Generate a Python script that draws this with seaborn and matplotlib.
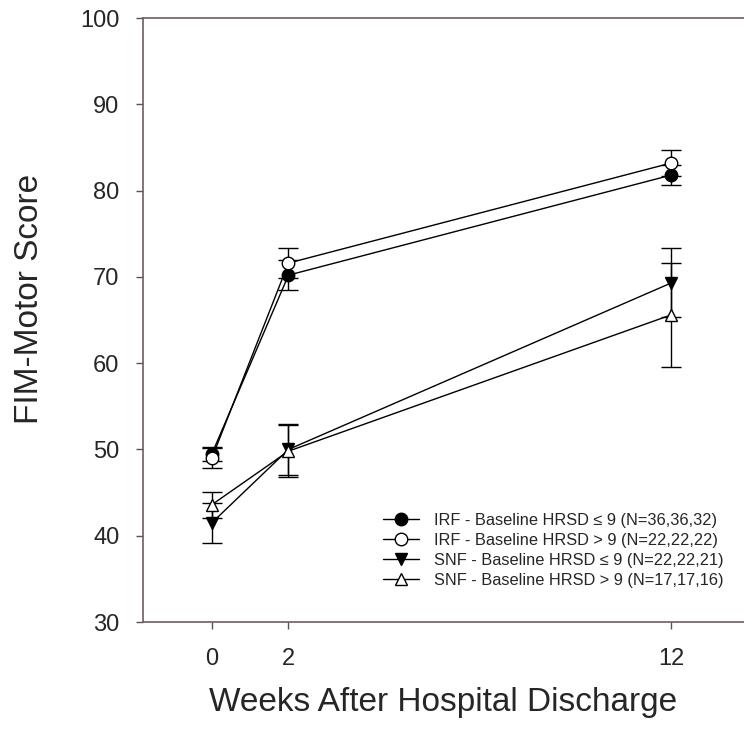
import numpy as np
import pandas as pd
import matplotlib
matplotlib.use("Agg")
import matplotlib.pyplot as plt
import seaborn as sns

# Data
weeks = [0, 2, 12]
groups = [
    "IRF - Baseline HRSD \u2264 9 (N=36,36,32)",
    "IRF - Baseline HRSD > 9 (N=22,22,22)",
    "SNF - Baseline HRSD \u2264 9 (N=22,22,21)",
    "SNF - Baseline HRSD > 9 (N=17,17,16)",
]
irf_low = [49.5, 70.2, 81.8]
irf_high = [49.0, 71.6, 83.2]
snf_low = [41.5, 50.0, 69.3]
snf_high = [43.6, 49.8, 65.6]
irf_low_err = [0.8, 1.7, 1.2]
irf_high_err = [1.2, 1.7, 1.5]
snf_low_err = [2.3, 3.0, 4.0]
snf_high_err = [1.5, 3.0, 6.0]

means = [irf_low, irf_high, snf_low, snf_high]
errs = [irf_low_err, irf_high_err, snf_low_err, snf_high_err]

df = pd.DataFrame({
    "week": weeks * 4,
    "score": sum(means, []),
    "err": sum(errs, []),
    "group": np.repeat(groups, 3),
})

sns.set_style("ticks")
plt.rcParams["font.family"] = ["Liberation Sans", "DejaVu Sans"]

fig = plt.figure(figsize=(7.44, 7.39), dpi=100)
ax = fig.add_axes([0.1922, 0.1583, 0.8078, 0.8173])

markers = {groups[0]: "o", groups[1]: "o", groups[2]: "v", groups[3]: "^"}
fills = {groups[0]: "black", groups[1]: "white", groups[2]: "black", groups[3]: "white"}

# error bars first so markers sit on top
for g in groups:
    sub = df[df["group"] == g]
    ax.errorbar(sub["week"], sub["score"], yerr=sub["err"], fmt="none",
                ecolor="black", elinewidth=1.0, capsize=7, capthick=1.0, zorder=2)

for g in groups:
    sub = df[df["group"] == g]
    sns.lineplot(data=sub, x="week", y="score", ax=ax, color="black",
                 marker=markers[g], markersize=9, markerfacecolor=fills[g],
                 markeredgecolor="black", markeredgewidth=1.0,
                 linewidth=1.0, label=g, zorder=3)

ax.set_xlim(-1.8, 13.9)
ax.set_ylim(30, 100)
ax.set_xticks(weeks)
ax.set_yticks(range(30, 101, 10))
ax.tick_params(axis="both", labelsize=17, length=5, width=1, color="#555555")
ax.tick_params(axis="y", pad=12)
ax.tick_params(axis="x", pad=14)

for side in ["left", "top", "bottom"]:
    ax.spines[side].set_color("#6b5f5f")
    ax.spines[side].set_linewidth(1.2)
ax.spines["right"].set_visible(False)

ax.set_xlabel("Weeks After Hospital Discharge", fontsize=24, labelpad=12)
ax.set_ylabel("FIM-Motor Score", fontsize=24)
ax.yaxis.set_label_coords(-0.163, 0.535)

ax.legend(loc="lower right", bbox_to_anchor=(0.99, 0.032), frameon=False,
          fontsize=11.8, handlelength=2.2, labelspacing=0.3, handletextpad=0.9)

fig.savefig("out.png", dpi=100)
